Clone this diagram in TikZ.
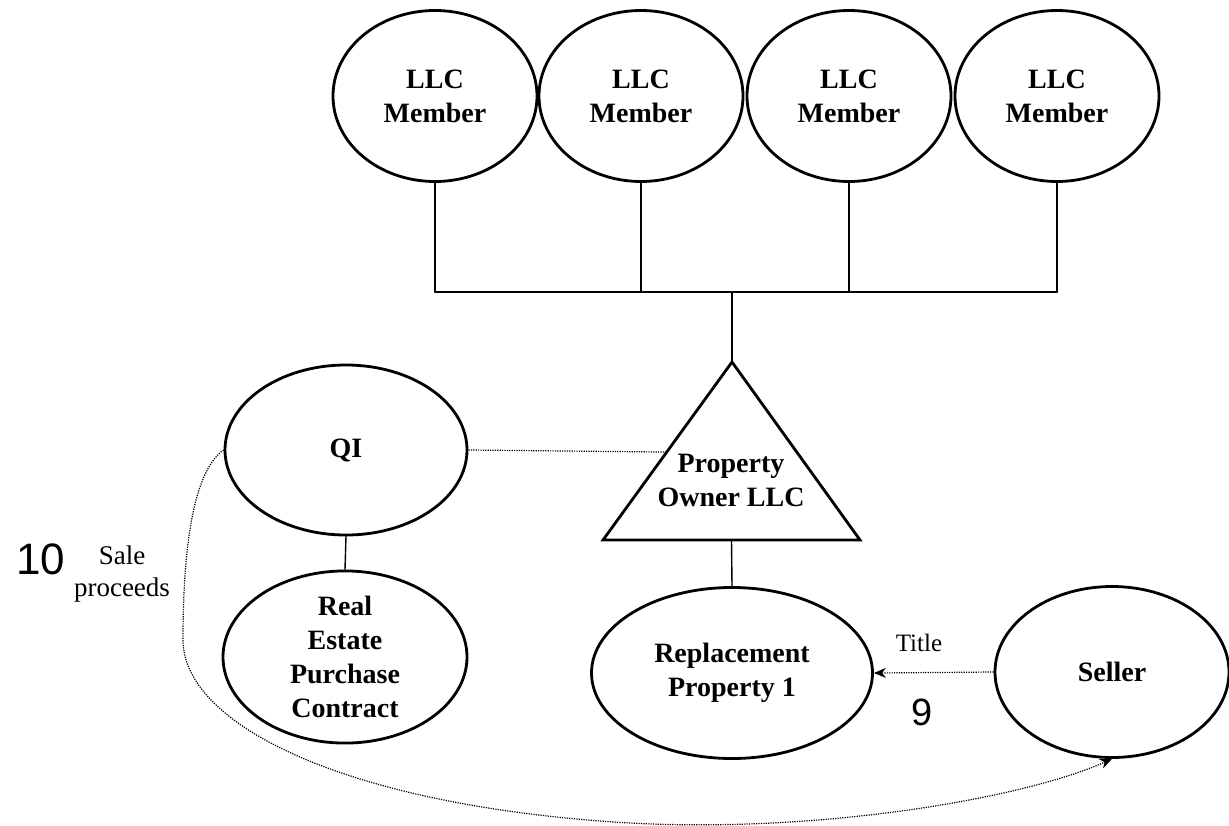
\documentclass[tikz,border=0pt]{standalone}
\usepackage{fontspec}
\setmainfont{Liberation Serif}
\newfontfamily\numfont{Liberation Sans}
\usetikzlibrary{arrows.meta,calc,shapes.geometric}

\begin{document}
\begin{tikzpicture}[x=1pt,y=-1pt,line join=round,line cap=round,>={Stealth[length=12pt,width=10pt]},
  oval/.style={draw,ellipse,line width=2.8pt,inner sep=0pt,minimum height=171pt,align=center,font=\fontsize{28}{34}\selectfont\bfseries},
  link/.style={line width=1.4pt},
  dots/.style={line width=1.2pt,line cap=butt,dash pattern=on 1.2pt off 1.2pt},
  numlab/.style={font=\numfont\fontsize{38}{40}\selectfont},
  smalllab/.style={align=center,font=\fontsize{27}{32}\selectfont}]
\useasboundingbox (0,0) rectangle (1229,825);
% members and bus
\foreach \i/\x in {1/435,2/641,3/849,4/1057}{\node[oval,minimum width=204pt] (m\i) at (\x,96) {LLC\\Member};}
\coordinate (bus) at (0,292);
\draw[link] (m1.south |- bus) -- (m4.south |- bus);
\foreach \i in {1,...,4}{\draw[link] (m\i.south) -- (m\i.south |- bus);}
% owner triangle
\coordinate (apex) at (732,362);
\coordinate (bl) at (603,540);
\coordinate (br) at (860,540);
\coordinate (base) at ($(bl)!0.5!(br)$);
\coordinate (edge) at ($(apex)!0.506!(bl)$);
\draw[line width=2.8pt,line join=miter] (apex)--(bl)--(br)--cycle;
\node[align=center,font=\fontsize{28}{34}\selectfont\bfseries] (owner) at (731,480) {Property\\Owner LLC};
\draw[link] (apex |- bus) -- (apex);
% lower nodes
\node[oval,minimum width=242pt,minimum height=170pt] (qi) at (346,450) {QI};
\node[oval,minimum width=244pt] (contract) at (345,657) {Real\\Estate\\Purchase\\Contract};
\node[oval,minimum width=281pt] (repl) at (732,673) {Replacement\\Property 1};
\node[oval,minimum width=234pt] (seller) at (1112,672) {Seller};
\draw[link] (qi.south) -- (contract.north);
\draw[link] (base) -- (repl.north);
\draw[dots] (qi.east) -- (edge);
% title and proceeds
\draw[dots,->] (seller.west) -- (repl.east);
\node[smalllab,font=\fontsize{25}{28}\selectfont] (title) at (919,643) {Title};
\node[numlab] (nine) at (922,712) {9};
\node[numlab,font=\numfont\fontsize{44}{46}\selectfont] (ten) at (41,559) {10};
\node[smalllab] (sale) at (122,574) {Sale\\proceeds};
\draw[dots,->] (qi.west) .. controls (195,470) and (183,540) .. (183,640) .. controls (183,720) and (330,800) .. (600,821) .. controls (800,837) and (1020,800) .. (seller.south);
\end{tikzpicture}
\end{document}
